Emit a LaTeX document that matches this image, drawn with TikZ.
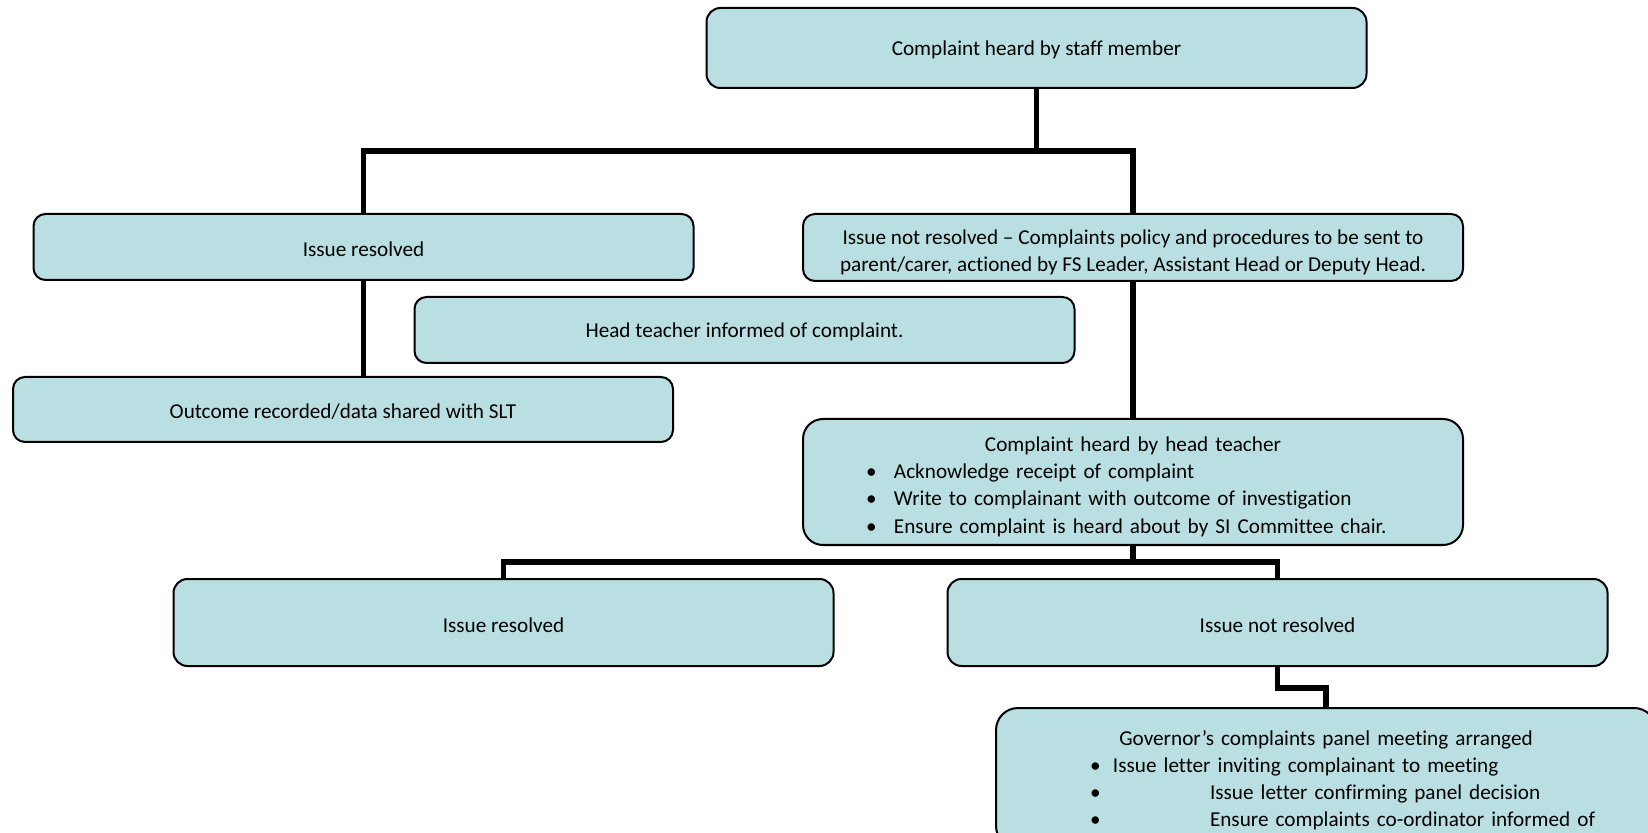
\documentclass[tikz,border=0pt]{standalone}
\usepackage{fontspec}
\setmainfont{Carlito}[Ligatures={NoCommon,NoContextual}]
\definecolor{boxblue}{RGB}{185,223,226}
\newcommand{\bitem}[3]{\hspace*{#1}\makebox[#2][l]{\textbullet}#3\par}

\begin{document}
\begin{tikzpicture}[x=0.5pt, y=-0.5pt,
    box/.style={draw=black, line width=1pt, fill=boxblue, rounded corners=6pt,
        minimum width=330pt, inner sep=0pt, align=center,
        font=\fontsize{10.6}{13.6}\selectfont,
        execute at begin node={\rule{0pt}{9.6pt}}},
    tallbox/.style={execute at begin node={\rule{0pt}{#1}}},
    listbox/.style={box, text width=330pt, align=left},
    link/.style={line width=2.6pt}]
                \clip (0,0) rectangle (1648,833);

                % Define nodes
                \node[box, minimum height=40pt, rounded corners=7pt] (staff) at (1036.5,48) {Complaint heard by staff member};
                \node[box, minimum height=33pt] (res1) at (363.5,247) {Issue resolved};
                \node[box, tallbox=26pt, minimum height=33.5pt] (notres1) at (1133,247.5) {Issue not resolved -- Complaints policy and procedures to be sent to\\parent/carer, actioned by FS Leader, Assistant Head or Deputy Head.};
                \node[box, minimum height=33pt] (htinf) at (744.5,330) {Head teacher informed of complaint.};
                \node[box, minimum height=32.5pt] (outcome) at (343,409.5) {Outcome recorded/data shared with SLT};
                \node[listbox, tallbox=12pt, minimum height=63pt, rounded corners=10pt] (heard) at (1133,482) {%
                    {\centering Complaint heard by head teacher\par}
                    \bitem{31.5pt}{14pt}{Acknowledge receipt of complaint}
                    \bitem{31.5pt}{14pt}{Write to complainant with outcome of investigation}
                    \bitem{31.5pt}{14pt}{Ensure complaint is heard about by SI Committee chair.}};
                \node[box, minimum height=43.5pt, rounded corners=7pt] (res2) at (503.5,622.5) {Issue resolved};
                \node[box, minimum height=43.5pt, rounded corners=7pt] (notres2) at (1277.5,622.5) {Issue not resolved};
                \node[listbox, minimum height=70pt, rounded corners=11pt] (gov) at (1326,778) {%
                    {\centering Governor’s complaints panel meeting arranged\par}
                    \bitem{47pt}{11.5pt}{Issue letter inviting complainant to meeting}
                    \bitem{47pt}{60pt}{Issue letter confirming panel decision}
                    \bitem{47pt}{60pt}{Ensure complaints co-ordinator informed of}};

                % Junction heights
                \coordinate (j1) at (0,151);
                \coordinate (j2) at (0,562);
                \coordinate (j3) at (0,688);

                % Draw the connectors
                \draw[link] (staff.south) |- (res1.north |- j1) -- (res1.north);
                \draw[link] (staff.south) |- (notres1.north |- j1) -- (notres1.north);
                \draw[link] (res1.south) -- (res1.south |- outcome.north);
                \draw[link] (notres1.south) -- (heard.north);
                \draw[link] (heard.south) |- (res2.north |- j2) -- (res2.north);
                \draw[link] (heard.south) |- (notres2.north |- j2) -- (notres2.north);
                \draw[link] (notres2.south) |- (gov.north |- j3) -- (gov.north);
            \end{tikzpicture}
\end{document}
